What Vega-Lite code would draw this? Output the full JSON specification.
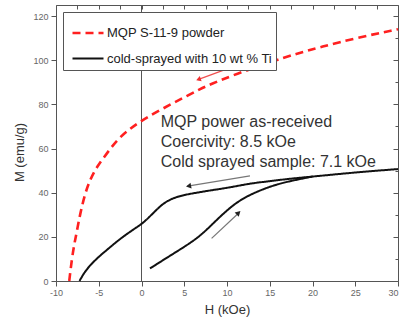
{
  "$schema": "https://vega.github.io/schema/vega-lite/v6.json",
  "width": 342,
  "height": 276,
  "autosize": "none",
  "padding": {"left": 56, "top": 5, "right": 4, "bottom": 40},
  "background": "white",
  "config": {
    "view": {"stroke": "#555", "strokeWidth": 1},
    "font": "Liberation Sans",
    "axis": {"grid": false, "domainColor": "#555", "tickColor": "#555", "labelColor": "#666", "labelFontSize": 9, "titleFontSize": 13, "titleFontWeight": "normal", "titleColor": "#333", "labelFont": "Liberation Sans", "titleFont": "Liberation Sans"}
  },
  "datasets": {
    "curves": [
      {"series": "MQP S-11-9 powder", "branch": "r", "H": -8.45, "M": 0},
      {"series": "MQP S-11-9 powder", "branch": "r", "H": -8.3, "M": 5},
      {"series": "MQP S-11-9 powder", "branch": "r", "H": -8.1, "M": 11},
      {"series": "MQP S-11-9 powder", "branch": "r", "H": -7.85, "M": 17},
      {"series": "MQP S-11-9 powder", "branch": "r", "H": -7.58, "M": 22},
      {"series": "MQP S-11-9 powder", "branch": "r", "H": -7.2, "M": 30},
      {"series": "MQP S-11-9 powder", "branch": "r", "H": -6.6, "M": 39.7},
      {"series": "MQP S-11-9 powder", "branch": "r", "H": -6.0, "M": 46},
      {"series": "MQP S-11-9 powder", "branch": "r", "H": -5.23, "M": 51.7},
      {"series": "MQP S-11-9 powder", "branch": "r", "H": -4.1, "M": 57.5},
      {"series": "MQP S-11-9 powder", "branch": "r", "H": -2.9, "M": 63.8},
      {"series": "MQP S-11-9 powder", "branch": "r", "H": -1.5, "M": 68.5},
      {"series": "MQP S-11-9 powder", "branch": "r", "H": -0.2, "M": 72.1},
      {"series": "MQP S-11-9 powder", "branch": "r", "H": 1.5, "M": 76},
      {"series": "MQP S-11-9 powder", "branch": "r", "H": 3.7, "M": 80.6},
      {"series": "MQP S-11-9 powder", "branch": "r", "H": 5.3, "M": 83.8},
      {"series": "MQP S-11-9 powder", "branch": "r", "H": 6.8, "M": 86.8},
      {"series": "MQP S-11-9 powder", "branch": "r", "H": 8, "M": 89},
      {"series": "MQP S-11-9 powder", "branch": "r", "H": 11.1, "M": 93.8},
      {"series": "MQP S-11-9 powder", "branch": "r", "H": 15, "M": 99},
      {"series": "MQP S-11-9 powder", "branch": "r", "H": 18.15, "M": 103},
      {"series": "MQP S-11-9 powder", "branch": "r", "H": 21, "M": 106},
      {"series": "MQP S-11-9 powder", "branch": "r", "H": 25, "M": 110},
      {"series": "MQP S-11-9 powder", "branch": "r", "H": 30, "M": 114},
      {"series": "cold-sprayed with 10 wt % Ti", "branch": "down", "H": 30, "M": 50.7},
      {"series": "cold-sprayed with 10 wt % Ti", "branch": "down", "H": 27, "M": 49.8},
      {"series": "cold-sprayed with 10 wt % Ti", "branch": "down", "H": 24, "M": 48.8},
      {"series": "cold-sprayed with 10 wt % Ti", "branch": "down", "H": 20, "M": 47.3},
      {"series": "cold-sprayed with 10 wt % Ti", "branch": "down", "H": 17, "M": 46.2},
      {"series": "cold-sprayed with 10 wt % Ti", "branch": "down", "H": 14.8, "M": 45.1},
      {"series": "cold-sprayed with 10 wt % Ti", "branch": "down", "H": 12.7, "M": 44.2},
      {"series": "cold-sprayed with 10 wt % Ti", "branch": "down", "H": 10.4, "M": 42.4},
      {"series": "cold-sprayed with 10 wt % Ti", "branch": "down", "H": 8, "M": 41},
      {"series": "cold-sprayed with 10 wt % Ti", "branch": "down", "H": 6.45, "M": 40},
      {"series": "cold-sprayed with 10 wt % Ti", "branch": "down", "H": 5, "M": 39},
      {"series": "cold-sprayed with 10 wt % Ti", "branch": "down", "H": 3.7, "M": 37.6},
      {"series": "cold-sprayed with 10 wt % Ti", "branch": "down", "H": 2.55, "M": 35.2},
      {"series": "cold-sprayed with 10 wt % Ti", "branch": "down", "H": 1.58, "M": 31.6},
      {"series": "cold-sprayed with 10 wt % Ti", "branch": "down", "H": 0.6, "M": 27.8},
      {"series": "cold-sprayed with 10 wt % Ti", "branch": "down", "H": 0.02, "M": 25.8},
      {"series": "cold-sprayed with 10 wt % Ti", "branch": "down", "H": -1.35, "M": 22.3},
      {"series": "cold-sprayed with 10 wt % Ti", "branch": "down", "H": -2.7, "M": 18.5},
      {"series": "cold-sprayed with 10 wt % Ti", "branch": "down", "H": -4.07, "M": 14},
      {"series": "cold-sprayed with 10 wt % Ti", "branch": "down", "H": -5, "M": 11},
      {"series": "cold-sprayed with 10 wt % Ti", "branch": "down", "H": -6, "M": 7.2},
      {"series": "cold-sprayed with 10 wt % Ti", "branch": "down", "H": -6.7, "M": 3.8},
      {"series": "cold-sprayed with 10 wt % Ti", "branch": "down", "H": -7.25, "M": 0},
      {"series": "cold-sprayed with 10 wt % Ti", "branch": "up", "H": 0.99, "M": 5.7},
      {"series": "cold-sprayed with 10 wt % Ti", "branch": "up", "H": 3.7, "M": 12.3},
      {"series": "cold-sprayed with 10 wt % Ti", "branch": "up", "H": 6.45, "M": 19},
      {"series": "cold-sprayed with 10 wt % Ti", "branch": "up", "H": 8, "M": 24.6},
      {"series": "cold-sprayed with 10 wt % Ti", "branch": "up", "H": 9.97, "M": 32.1},
      {"series": "cold-sprayed with 10 wt % Ti", "branch": "up", "H": 11.9, "M": 37.8},
      {"series": "cold-sprayed with 10 wt % Ti", "branch": "up", "H": 14.8, "M": 42.6},
      {"series": "cold-sprayed with 10 wt % Ti", "branch": "up", "H": 17, "M": 45},
      {"series": "cold-sprayed with 10 wt % Ti", "branch": "up", "H": 20, "M": 47.3}
    ],
    "notes": [
      {"H": 2.25, "M": 69.9, "t": "MQP power as-received"},
      {"H": 2.25, "M": 60.8, "t": "Coercivity: 8.5 kOe"},
      {"H": 2.25, "M": 51.8, "t": "Cold sprayed sample: 7.1 kOe"}
    ]
  },
  "layer": [
    {
      "layer": [
        {
          "data": {"values": [{"H": 0}]},
          "mark": {"type": "rule", "color": "#555", "strokeWidth": 1},
          "encoding": {"x": {"field": "H", "type": "quantitative"}}
        },
        {
          "data": {"name": "curves"},
          "mark": {"type": "line", "interpolate": "basis"},
          "encoding": {
            "x": {
              "field": "H", "type": "quantitative",
              "scale": {"domain": [-10, 30], "nice": false, "zero": false},
              "axis": {
                "title": "H (kOe)",
                "values": [-10, -7.5, -5, -2.5, 0, 2.5, 5, 7.5, 10, 12.5, 15, 17.5, 20, 22.5, 25, 27.5, 30],
                "labelExpr": "datum.value % 5 === 0 ? replace(datum.label, '−', '-') : ''",
                "labelOverlap": false, "labelFlush": false,
                "labelAlign": {"condition": {"test": "datum.value === 30", "value": "right"}, "value": "center"},
                "tickSize": {"condition": {"test": "datum.value % 5 === 0", "value": 5}, "value": 3},
                "labelPadding": 2, "titlePadding": 6, "domain": false
              }
            },
            "y": {
              "field": "M", "type": "quantitative",
              "scale": {"domain": [0, 125], "nice": false},
              "axis": {
                "title": "M (emu/g)",
                "values": [0, 10, 20, 30, 40, 50, 60, 70, 80, 90, 100, 110, 120],
                "labelExpr": "datum.value % 20 === 0 ? datum.label : ''",
                "labelOverlap": false, "labelFlush": false,
                "tickSize": {"condition": {"test": "datum.value % 20 === 0", "value": 5}, "value": 3},
                "labelPadding": 3, "titlePadding": 6, "titleY": 147, "domain": false
              }
            },
            "detail": {"field": "branch"},
            "color": {
              "field": "series", "type": "nominal",
              "scale": {"domain": ["MQP S-11-9 powder", "cold-sprayed with 10 wt % Ti"], "range": ["#ff2020", "#111111"]},
              "legend": {
                "orient": "none", "legendX": 7, "legendY": 7, "title": null,
                "symbolType": "stroke", "symbolSize": 961, "symbolStrokeWidth": 2.5,
                "labelFontSize": 13, "labelFont": "Liberation Sans", "labelColor": "#222", "labelLimit": 300,
                "strokeColor": "#555", "fillColor": "white", "padding": 4, "rowPadding": 2,
                "labelOffset": 2, "symbolOffset": 4
              }
            },
            "strokeDash": {
              "field": "series", "type": "nominal",
              "scale": {"domain": ["MQP S-11-9 powder", "cold-sprayed with 10 wt % Ti"], "range": [[8, 5], [1, 0]]},
              "legend": null
            },
            "strokeWidth": {
              "field": "series", "type": "nominal",
              "scale": {"domain": ["MQP S-11-9 powder", "cold-sprayed with 10 wt % Ti"], "range": [2.6, 2]},
              "legend": null
            }
          }
        },
        {
          "data": {"values": [{"H": 13.66, "M": 101.3, "H2": 6.6, "M2": 91.2}]},
          "mark": {"type": "rule", "color": "#f05050", "strokeWidth": 1.2},
          "encoding": {
            "x": {"field": "H", "type": "quantitative"},
            "y": {"field": "M", "type": "quantitative"},
            "x2": {"field": "H2"}, "y2": {"field": "M2"}
          }
        },
        {
          "data": {"values": [{"H": 12.69, "M": 47.6, "H2": 5.4, "M2": 43}, {"H": 8.2, "M": 19.3, "H2": 11.4, "M2": 30.9}]},
          "mark": {"type": "rule", "color": "#777", "strokeWidth": 1.2},
          "encoding": {
            "x": {"field": "H", "type": "quantitative"},
            "y": {"field": "M", "type": "quantitative"},
            "x2": {"field": "H2"}, "y2": {"field": "M2"}
          }
        },
        {
          "data": {"values": [{"H": 6.75, "M": 91.4}]},
          "mark": {"type": "point", "shape": "triangle", "angle": 250, "filled": true, "size": 30, "color": "#f03030", "opacity": 1},
          "encoding": {
            "x": {"field": "H", "type": "quantitative"},
            "y": {"field": "M", "type": "quantitative"}
          }
        },
        {
          "data": {"values": [{"H": 5.6, "M": 43.1}]},
          "mark": {"type": "point", "shape": "triangle", "angle": 260, "filled": true, "size": 35, "color": "#222", "opacity": 1},
          "encoding": {
            "x": {"field": "H", "type": "quantitative"},
            "y": {"field": "M", "type": "quantitative"}
          }
        },
        {
          "data": {"values": [{"H": 11.28, "M": 30.6}]},
          "mark": {"type": "point", "shape": "triangle", "angle": 47, "filled": true, "size": 35, "color": "#222", "opacity": 1},
          "encoding": {
            "x": {"field": "H", "type": "quantitative"},
            "y": {"field": "M", "type": "quantitative"}
          }
        },
        {
          "data": {"name": "notes"},
          "mark": {"type": "text", "align": "left", "baseline": "alphabetic", "fontSize": 16, "color": "#333", "font": "Liberation Sans"},
          "encoding": {
            "x": {"field": "H", "type": "quantitative"},
            "y": {"field": "M", "type": "quantitative"},
            "text": {"field": "t"}
          }
        }
      ]
    },
    {
      "data": {"values": [{"H": 0, "M": 0}]},
      "mark": {"type": "point", "opacity": 0},
      "encoding": {
        "x": {
          "field": "H", "type": "quantitative",
          "axis": {"orient": "top", "title": null, "labels": false, "domain": false,
                   "values": [-10, -7.5, -5, -2.5, 0, 2.5, 5, 7.5, 10, 12.5, 15, 17.5, 20, 22.5, 25, 27.5, 30],
                   "tickSize": -4}
        },
        "y": {
          "field": "M", "type": "quantitative",
          "axis": {"orient": "right", "title": null, "labels": false, "domain": false,
                   "values": [0, 10, 20, 30, 40, 50, 60, 70, 80, 90, 100, 110, 120],
                   "tickSize": {"condition": {"test": "datum.value % 20 === 0", "value": -5}, "value": -3}}
        }
      }
    }
  ],
  "resolve": {"axis": {"x": "independent", "y": "independent"}}
}
